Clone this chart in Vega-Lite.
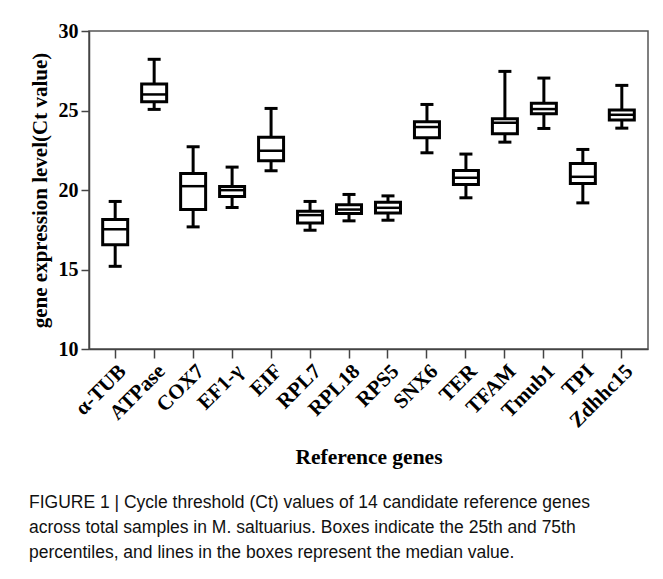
{
  "$schema": "https://vega.github.io/schema/vega-lite/v6.json",
  "autosize": {"type": "none"},
  "padding": {"left": 89, "top": 31, "right": 15, "bottom": 230},
  "width": 559,
  "height": 318,
  "background": "white",
  "title": {
    "text": [
      "FIGURE 1 | Cycle threshold (Ct) values of 14 candidate reference genes",
      "across total samples in M. saltuarius. Boxes indicate the 25th and 75th",
      "percentiles, and lines in the boxes represent the median value."
    ],
    "orient": "bottom",
    "anchor": "start",
    "frame": "bounds",
    "offset": 26,
    "font": "Liberation Sans",
    "fontSize": 17.5,
    "fontWeight": "normal",
    "color": "#111",
    "lineHeight": 25
  },
  "data": {
    "values": [
      {"gene": "α-TUB", "min": 15.2, "q1": 16.55, "median": 17.53, "q3": 18.14, "max": 19.28},
      {"gene": "ATPase", "min": 25.07, "q1": 25.55, "median": 26.01, "q3": 26.66, "max": 28.22},
      {"gene": "COX7", "min": 17.68, "q1": 18.77, "median": 20.24, "q3": 21.04, "max": 22.72},
      {"gene": "EF1-γ", "min": 18.9, "q1": 19.59, "median": 19.99, "q3": 20.22, "max": 21.44},
      {"gene": "EIF", "min": 21.21, "q1": 21.84, "median": 22.47, "q3": 23.31, "max": 25.13},
      {"gene": "RPL7", "min": 17.47, "q1": 17.93, "median": 18.42, "q3": 18.67, "max": 19.28},
      {"gene": "RPL18", "min": 18.06, "q1": 18.52, "median": 18.77, "q3": 19.07, "max": 19.72},
      {"gene": "RPS5", "min": 18.1, "q1": 18.56, "median": 18.88, "q3": 19.23, "max": 19.63},
      {"gene": "SNX6", "min": 22.34, "q1": 23.28, "median": 23.96, "q3": 24.29, "max": 25.38},
      {"gene": "TER", "min": 19.51, "q1": 20.35, "median": 20.77, "q3": 21.23, "max": 22.26},
      {"gene": "TFAM", "min": 23.01, "q1": 23.54, "median": 24.23, "q3": 24.48, "max": 27.46},
      {"gene": "Tmub1", "min": 23.87, "q1": 24.8, "median": 25.09, "q3": 25.45, "max": 27.04},
      {"gene": "TPI", "min": 19.19, "q1": 20.41, "median": 20.83, "q3": 21.67, "max": 22.55},
      {"gene": "Zdhhc15", "min": 23.89, "q1": 24.4, "median": 24.73, "q3": 25.03, "max": 26.58}
    ]
  },
  "encoding": {
    "x": {
      "field": "gene",
      "type": "nominal",
      "sort": null,
      "scale": {"type": "band", "paddingInner": 0, "paddingOuter": 0.172},
      "axis": {
        "title": "Reference genes",
        "labelAngle": -45,
        "labelFont": "Liberation Serif",
        "labelFontSize": 21,
        "labelFontWeight": "bold",
        "labelColor": "black",
        "labelPadding": 2,
        "tickSize": 9,
        "tickWidth": 1.5,
        "tickColor": "#444",
        "domainColor": "#444",
        "domainWidth": 1.5,
        "titleFont": "Liberation Serif",
        "titleFontSize": 21.5,
        "titleFontWeight": "bold",
        "titleColor": "black",
        "titlePadding": 16
      }
    }
  },
  "layer": [
    {
      "mark": {"type": "rule", "color": "black", "strokeWidth": 3},
      "encoding": {
        "y": {
          "field": "min",
          "type": "quantitative",
          "scale": {"domain": [10, 30], "nice": false, "zero": false},
          "axis": {
            "title": "gene expression level(Ct value)",
            "values": [10, 15, 20, 25, 30],
            "grid": false,
            "labelFont": "Liberation Serif",
            "labelFontSize": 20,
            "labelFontWeight": "bold",
            "labelColor": "black",
            "labelPadding": 3,
            "tickSize": 8,
            "tickWidth": 1.5,
            "tickColor": "#444",
            "domainColor": "#444",
            "domainWidth": 1.5,
            "titleFont": "Liberation Serif",
            "titleFontSize": 21,
            "titleFontWeight": "bold",
            "titleColor": "black",
            "titlePadding": 8
          }
        },
        "y2": {"field": "max"}
      }
    },
    {
      "mark": {"type": "bar", "size": 25, "fill": "white", "stroke": "black", "strokeWidth": 3},
      "encoding": {
        "y": {"field": "q1", "type": "quantitative"},
        "y2": {"field": "q3"}
      }
    },
    {
      "mark": {"type": "tick", "size": 25, "thickness": 2.5, "color": "black", "opacity": 1},
      "encoding": {"y": {"field": "median", "type": "quantitative"}}
    },
    {
      "mark": {"type": "tick", "size": 13, "thickness": 3, "color": "black", "opacity": 1},
      "encoding": {"y": {"field": "min", "type": "quantitative"}}
    },
    {
      "mark": {"type": "tick", "size": 13, "thickness": 3, "color": "black", "opacity": 1},
      "encoding": {"y": {"field": "max", "type": "quantitative"}}
    }
  ],
  "config": {
    "view": {"stroke": "#555", "strokeWidth": 1.5}
  }
}
